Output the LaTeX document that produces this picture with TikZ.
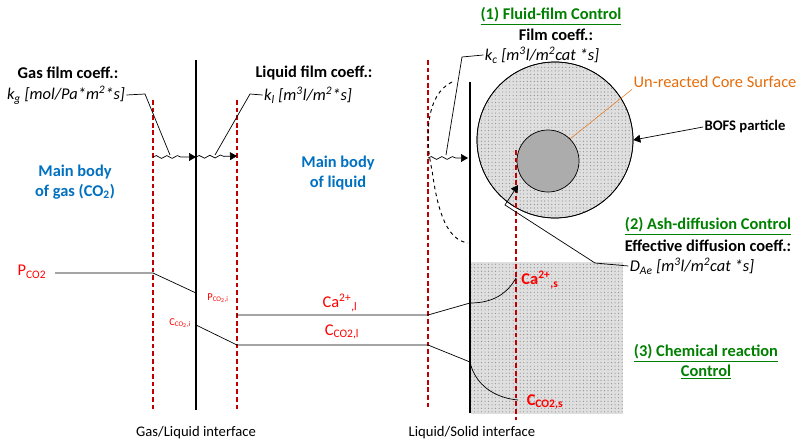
\documentclass[tikz,border=0pt]{standalone}
\usepackage{fontspec}
\setmainfont{Carlito}
\usetikzlibrary{arrows,decorations.pathmorphing,patterns,shapes.geometric}
\definecolor{dred}{RGB}{192,0,0}
\definecolor{bblue}{RGB}{0,112,192}
\definecolor{ggreen}{RGB}{0,128,0}
\definecolor{oorange}{RGB}{228,108,10}
\newcommand{\bigtxt}{\fontsize{14}{17}\selectfont}
\newcommand{\midtxt}{\fontsize{12.5}{15}\selectfont}
\begin{document}
\begin{tikzpicture}[x=0.03cm,y=-0.03cm,semithick]
\tikzstyle{film} = [draw=dred, line width=1.3pt, dash pattern=on 4pt off 2.5pt]
\tikzstyle{wall} = [draw, line width=2.2pt]
\tikzstyle{title} = [font=\bfseries\bigtxt, inner sep=1pt]
\tikzstyle{coeff} = [font=\itshape\bigtxt, inner sep=1pt]
\tikzstyle{body} = [text=bblue, font=\bfseries\bigtxt, align=center, inner sep=1pt]
\tikzstyle{conc} = [text=red, inner sep=1pt]
\tikzstyle{ctrl} = [text=ggreen, font=\bfseries\bigtxt, align=center, inner sep=1pt]
\tikzstyle{wave} = [draw, decorate, decoration={snake, amplitude=1.2pt, segment length=9pt, post length=10pt}, -triangle 60]
\tikzstyle{lead} = [draw]
\useasboundingbox (0,0) rectangle (800,447);
% solid and particle
\fill[gray!25] (471,262) rectangle (623,414);
\fill[pattern=dots, pattern color=gray!90] (471,262) rectangle (623,414);
\node [circle, draw, fill=gray!25, minimum size=156*0.03cm] (particle) at (555,140) {};
\fill[pattern=dots, pattern color=gray!90] (555,140) circle (78);
\draw (555,140) circle (78);
\node [circle, draw, fill=gray!65, minimum size=62*0.03cm] (core) at (548,161) {};
% films and interfaces
\path [film] (153,100) -- (153,410);
\path [film] (237,100) -- (237,410);
\path [film] (428,60) -- (428,410);
\path [film] (516,150) -- (516,420);
\path [wall] (196,60) -- (196,410);
\path [wall] (470,82) -- (470,413);
\draw [thick, dashed] (452,82) .. controls (425,95) and (425,140) .. (432,170) .. controls (438,215) and (448,240) .. (468,243);
% labels
\node [title] (gasc) at (68,73) {Gas film coeff.:};
\node [coeff] (kg) at (66,95) {k\textsubscript{g} [mol/Pa*m\textsuperscript{2}*s]};
\node [title] (liqc) at (314,73) {Liquid film coeff.:};
\node [coeff] (kl) at (308,95) {k\textsubscript{l} [m\textsuperscript{3}l/m\textsuperscript{2}*s]};
\node [ctrl] (ff) at (551,16) {\underline{(1) Fluid-film Control}};
\node [title] (filmc) at (556,35) {Film coeff.:};
\node [coeff] (kc) at (542,55) {k\textsubscript{c} [m\textsuperscript{3}l/m\textsuperscript{2}cat *s]};
\node [text=oorange, font=\bigtxt, inner sep=1pt] (core_l) at (715,82) {Un-reacted Core Surface};
\node [font=\bfseries\midtxt, inner sep=1pt] (bofs) at (745,127) {BOFS particle};
\node [body] (gas) at (75,182) {Main body\\of gas (CO\textsubscript{2})};
\node [body] (liq) at (338,173) {Main body\\of liquid};
\node [ctrl] (ash) at (708,226) {\underline{(2) Ash-diffusion Control}};
\node [title] (effc) at (708,246) {Effective diffusion coeff.:};
\node [coeff] (dae) at (692,266) {D\textsubscript{Ae} [m\textsuperscript{3}l/m\textsuperscript{2}cat *s]};
\node [ctrl] (chem) at (706,362) {\underline{(3) Chemical reaction}\\\underline{Control}};
\node [font=\midtxt, inner sep=1pt] (gli) at (196,433) {Gas/Liquid interface};
\node [font=\midtxt, inner sep=1pt] (lsi) at (472,433) {Liquid/Solid interface};
% concentrations
\node [conc, font=\bigtxt] (pco2) at (32,272) {P\textsubscript{CO2}};
\node [conc, font=\small] (pco2i) at (218,298) {P\textsubscript{CO\textsubscript{2},i}};
\node [conc, font=\small] (cco2i) at (180,323) {C\textsubscript{CO\textsubscript{2},i}};
\node [conc, font=\bigtxt] (cal) at (340,303) {Ca\textsuperscript{2+}\textsubscript{,l}};
\node [conc, font=\bigtxt] (cco2l) at (342,332) {C\textsubscript{CO2,l}};
\node [conc, font=\bfseries\bigtxt] (cas) at (540,280) {Ca\textsuperscript{2+}\textsubscript{,s}};
\node [conc, font=\bfseries\bigtxt] (cco2s) at (545,402) {C\textsubscript{CO2,s}};
% profiles
\draw (55,273) -- (153,273) -- (196,293);
\draw (196,325) -- (237,345) -- (428,345) -- (470,362) .. controls (475,385) and (495,398) .. (518,400);
\draw (237,315) -- (428,315) -- (470,303) .. controls (495,303) and (508,292) .. (516,278);
% coefficient leads
\path [wave] (153,157) -- (196,157);
\path [wave] (196,157) -- (237,156);
\path [wave] (428,158) -- (468,158);
\path [lead] (kg.east) -- (145,94) -- (170,155);
\path [lead] (kl.west) -- (250,94) -- (215,155);
\path [lead] (kc.west) -- (462,57) -- (446,155);
\draw [thin, oorange] (core.north east) -- (core_l.south west);
\draw [-triangle 60] (bofs.west) -- (particle.east);
\draw [-triangle 60] (dae.west) -- (595,263) -- (505,205) -- (518,185);
\end{tikzpicture}
\end{document}
